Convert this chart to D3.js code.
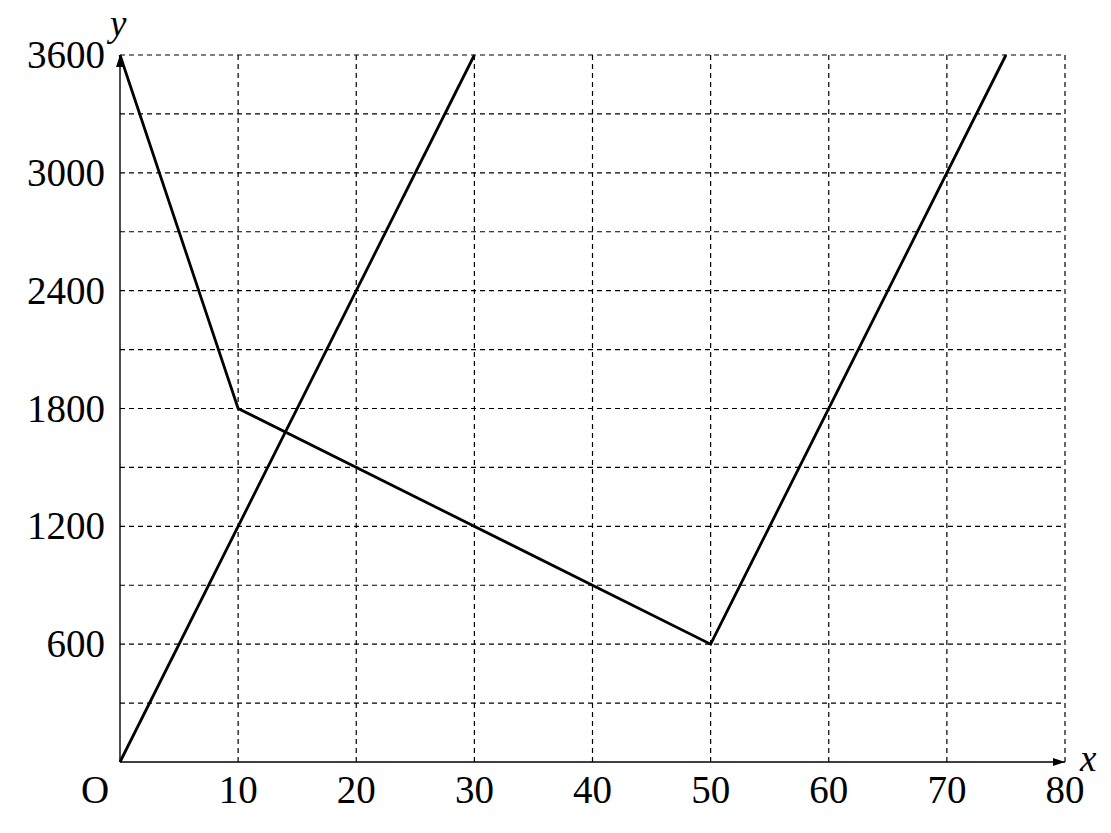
<!DOCTYPE html>
<html>
<head>
<meta charset="utf-8">
<script src="https://cdn.jsdelivr.net/npm/d3@7"></script>
<style>
body { margin: 0; background: #fff; }
text { font-family: "Liberation Serif", "DejaVu Serif", serif; fill: #000; }
</style>
</head>
<body>
<div id="chart"></div>
<script>
var width = 1111;
var height = 833;

// data
var xTicks = [10, 20, 30, 40, 50, 60, 70, 80];
var yTicks = [600, 1200, 1800, 2400, 3000, 3600];
var xGrid = [10, 20, 30, 40, 50, 60, 70, 80];
var yGrid = [300, 600, 900, 1200, 1500, 1800, 2100, 2400, 2700, 3000, 3300, 3600];
var lineA = [[0, 0], [30, 3600]];
var lineB = [[0, 3600], [10, 1800], [50, 600], [75, 3600]];

var svg = d3.select("#chart").append("svg")
  .attr("width", width)
  .attr("height", height);

var x = d3.scaleLinear().domain([0, 80]).range([120, 1065]);
var y = d3.scaleLinear().domain([0, 3600]).range([762, 55]);

// arrow marker
svg.append("defs").append("marker")
  .attr("id", "arrow")
  .attr("viewBox", "0 0 12 8")
  .attr("refX", 12).attr("refY", 4)
  .attr("markerWidth", 12).attr("markerHeight", 8)
  .attr("markerUnits", "userSpaceOnUse")
  .attr("orient", "auto")
  .append("path")
  .attr("d", "M0,0L12,4L0,8Z")
  .attr("fill", "#000");

// dashed grid
svg.selectAll("line.vgrid")
  .data(xGrid)
  .enter().append("line")
  .attr("class", "vgrid")
  .attr("x1", d => x(d)).attr("x2", d => x(d))
  .attr("y1", y(0)).attr("y2", y(3600))
  .attr("stroke", "#000").attr("stroke-width", 1.2)
  .attr("stroke-dasharray", "5,4");

svg.selectAll("line.hgrid")
  .data(yGrid)
  .enter().append("line")
  .attr("class", "hgrid")
  .attr("x1", x(0)).attr("x2", x(80))
  .attr("y1", d => y(d)).attr("y2", d => y(d))
  .attr("stroke", "#000").attr("stroke-width", 1.2)
  .attr("stroke-dasharray", "5,4");

// axes with arrows
svg.append("line")
  .attr("x1", x(0)).attr("y1", y(0))
  .attr("x2", x(80)).attr("y2", y(0))
  .attr("stroke", "#000").attr("stroke-width", 1.4)
  .attr("marker-end", "url(#arrow)");

svg.append("line")
  .attr("x1", x(0)).attr("y1", y(0))
  .attr("x2", x(0)).attr("y2", y(3600))
  .attr("stroke", "#000").attr("stroke-width", 1.4)
  .attr("marker-end", "url(#arrow)");

// tick labels
svg.selectAll("text.xt")
  .data(xTicks)
  .enter().append("text")
  .attr("class", "xt")
  .attr("x", d => x(d))
  .attr("y", y(0) + 41)
  .attr("text-anchor", "middle")
  .attr("font-size", 39)
  .text(d => d);

svg.selectAll("text.yt")
  .data(yTicks)
  .enter().append("text")
  .attr("class", "yt")
  .attr("x", x(0) - 15)
  .attr("y", d => y(d) + 13)
  .attr("text-anchor", "end")
  .attr("font-size", 39)
  .text(d => d);

svg.append("text")
  .attr("x", x(0) - 25).attr("y", y(0) + 41)
  .attr("text-anchor", "middle")
  .attr("font-size", 39)
  .text("O");

svg.append("text")
  .attr("x", x(80) + 15).attr("y", y(0) + 9)
  .attr("font-size", 37).attr("font-style", "italic")
  .text("x");

svg.append("text")
  .attr("x", x(0) - 10).attr("y", y(3600) - 19)
  .attr("font-size", 37).attr("font-style", "italic")
  .text("y");

// the two graphs
var line = d3.line().x(d => x(d[0])).y(d => y(d[1]));

svg.append("path")
  .datum(lineA)
  .attr("d", line)
  .attr("fill", "none")
  .attr("stroke", "#000").attr("stroke-width", 2.8);

svg.append("path")
  .datum(lineB)
  .attr("d", line)
  .attr("fill", "none")
  .attr("stroke", "#000").attr("stroke-width", 2.8)
  .attr("stroke-linejoin", "miter");
</script>
</body>
</html>
